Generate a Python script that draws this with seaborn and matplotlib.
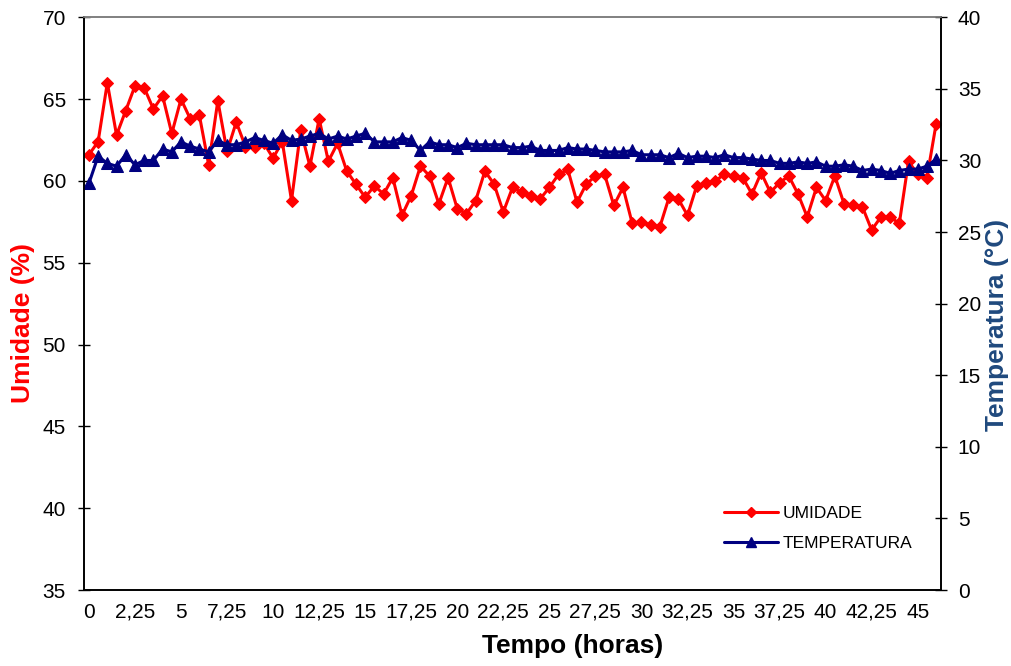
import matplotlib
matplotlib.use("Agg")
import matplotlib.pyplot as plt
from matplotlib.lines import Line2D
import numpy as np
import seaborn as sns

# Relative humidity (%) per reading
umidade = [61.6, 62.4, 66.0, 62.8, 64.3, 65.8, 65.7, 64.4, 65.2, 62.9,
           65.0, 63.8, 64.0, 61.0, 64.9, 61.8, 63.6, 62.1, 62.1, 62.3,
           61.4, 62.4, 58.8, 63.1, 60.9, 63.8, 61.2, 62.3, 60.6, 59.8,
           59.0, 59.7, 59.2, 60.2, 57.9, 59.1, 60.9, 60.3, 58.6, 60.2,
           58.3, 58.0, 58.8, 60.6, 59.8, 58.1, 59.6, 59.3, 59.1, 58.9,
           59.6, 60.4, 60.7, 58.7, 59.8, 60.3, 60.4, 58.5, 59.6, 57.4,
           57.5, 57.3, 57.2, 59.0, 58.9, 57.9, 59.7, 59.9, 60.0, 60.4,
           60.3, 60.2, 59.2, 60.5, 59.3, 59.9, 60.3, 59.2, 57.8, 59.6,
           58.8, 60.3, 58.6, 58.5, 58.4, 57.0, 57.8, 57.8, 57.4, 61.2,
           60.4, 60.2, 63.5]

# Temperature (°C) per reading
temperatura = [28.4, 30.3, 29.8, 29.6, 30.4, 29.7, 30.0, 30.0, 30.8, 30.6,
               31.3, 31.0, 30.8, 30.6, 31.4, 31.1, 31.1, 31.3, 31.6, 31.4,
               31.2, 31.8, 31.4, 31.5, 31.7, 31.9, 31.5, 31.7, 31.5, 31.7,
               31.9, 31.3, 31.3, 31.3, 31.6, 31.4, 30.7, 31.3, 31.1, 31.1,
               30.9, 31.2, 31.1, 31.1, 31.1, 31.1, 30.9, 30.9, 31.0, 30.7,
               30.7, 30.7, 30.9, 30.8, 30.8, 30.7, 30.6, 30.6, 30.6, 30.7,
               30.4, 30.4, 30.4, 30.2, 30.5, 30.2, 30.3, 30.3, 30.2, 30.4,
               30.2, 30.2, 30.1, 30.0, 30.0, 29.8, 29.8, 29.9, 29.8, 29.9,
               29.6, 29.6, 29.7, 29.6, 29.3, 29.4, 29.3, 29.1, 29.3, 29.4,
               29.4, 29.6, 30.1]

# Time labels shown on every fifth reading
tempo_labels = ["0", "2,25", "5", "7,25", "10", "12,25", "15", "17,25", "20",
                "22,25", "25", "27,25", "30", "32,25", "35", "37,25", "40",
                "42,25", "45"]
label_step = 5

sns.set_style("white")
plt.rcParams["font.family"] = ["Liberation Sans", "DejaVu Sans"]
plt.rcParams.update({
    "text.color": "black",
    "axes.labelcolor": "black",
    "xtick.color": "black",
    "ytick.color": "black",
})

RED = "#FF0000"
NAVY = "#000080"
TEMP_LABEL = "#1F497D"

fig = plt.figure(figsize=(10.12, 6.66), dpi=100)
ax = fig.add_axes([0.0833, 0.1141, 0.8463, 0.8599])
ax2 = ax.twinx()

n = len(umidade)
idx = np.arange(n)

sns.lineplot(x=idx, y=umidade, ax=ax, color=RED, linewidth=2.2,
             marker="D", markersize=6.5, markeredgecolor=RED,
             markerfacecolor=RED, legend=False)
sns.lineplot(x=idx, y=temperatura, ax=ax2, color=NAVY, linewidth=2.2,
             marker="^", markersize=8.5, markeredgecolor=NAVY,
             markerfacecolor=NAVY, legend=False)

ax.set_xlim(-0.5, n - 0.5)
ax.set_ylim(35, 70)
ax2.set_ylim(0, 40)
ax.set_yticks(np.arange(35, 71, 5))
ax2.set_yticks(np.arange(0, 41, 5))

# Category labels centred on readings, tick marks on the category boundaries
label_pos = np.arange(0, label_step * len(tempo_labels), label_step)
ax.set_xticks(label_pos)
ax.set_xticklabels(tempo_labels)
ax.set_xticks(np.arange(-0.5, n - 0.5, label_step), minor=True)
ax.tick_params(axis="x", which="major", length=0, pad=9, labelsize=15,
               labelcolor="black")
ax.tick_params(axis="x", which="minor", direction="inout", length=8.5,
               width=1, color="black")
ax.tick_params(axis="y", direction="inout", length=8.5, width=1,
               color="black", pad=9, labelsize=15, left=True,
               labelcolor="black")
ax2.tick_params(axis="y", direction="inout", length=8.5, width=1,
                color="black", pad=8, labelsize=15, right=True,
                labelcolor="black")

for a in (ax, ax2):
    a.grid(False)
    for side in ("left", "right", "bottom"):
        a.spines[side].set_color("black")
        a.spines[side].set_linewidth(1.2)
    a.spines["top"].set_color("#808080")
    a.spines["top"].set_linewidth(1.2)

ax.set_xlabel("Tempo (horas)", fontsize=19, fontweight="bold",
              color="black")
ax.set_ylabel("Umidade (%)", fontsize=19, fontweight="bold", color=RED)
ax2.set_ylabel("Temperatura (°C)", fontsize=19, fontweight="bold",
               color=TEMP_LABEL)
ax.xaxis.set_label_coords(0.570, -0.077)
ax.yaxis.set_label_coords(-0.0576, 0.466)
ax2.yaxis.set_label_coords(1.0517, 0.463)

handles = [
    Line2D([], [], color=RED, linewidth=2.2, marker="D", markersize=6.5),
    Line2D([], [], color=NAVY, linewidth=2.2, marker="^", markersize=8.5),
]
leg = ax2.legend(handles, ["UMIDADE", "TEMPERATURA"], loc="center",
                 bbox_to_anchor=(0.857, 0.108), frameon=False, fontsize=12.5,
                 handlelength=3.1, handletextpad=0.3, labelspacing=0.85,
                 markerscale=0.8)
for t in leg.get_texts():
    t.set_color("black")

fig.savefig("out.png", dpi=100)
